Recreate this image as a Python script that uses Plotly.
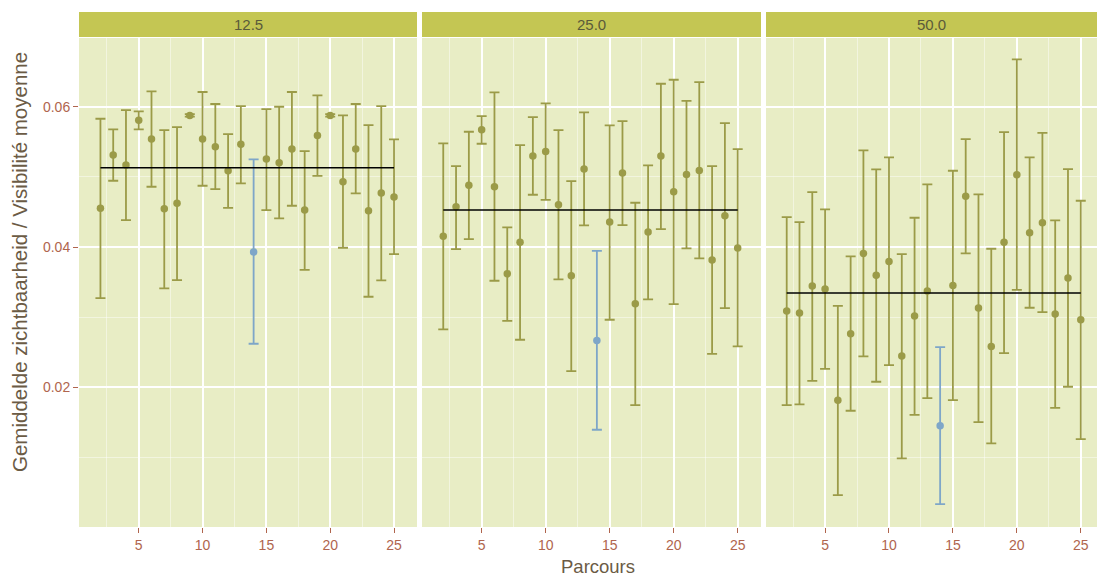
import plotly.graph_objects as go

parcours = list(range(2, 26))
panels = ["12.5", "25.0", "50.0"]
highlight = 14

mean_125 = [0.04552, 0.05311, 0.05169, 0.05806, 0.05540, 0.04546, 0.04623, 0.05877, 0.05540, 0.05430, 0.05088, 0.05464,
            0.03929, 0.05254, 0.05202, 0.05397, 0.04527, 0.05592, 0.05877, 0.04931, 0.05397, 0.04517, 0.04770, 0.04713]
upper_125 = [0.05829, 0.05678, 0.05953, 0.05934, 0.06220, 0.05668, 0.05711, 0.05895, 0.06210, 0.06039, 0.05611, 0.06010,
             0.05250, 0.05967, 0.06000, 0.06210, 0.05368, 0.06163, 0.05895, 0.05877, 0.06039, 0.05739, 0.06010, 0.05535]
lower_125 = [0.03273, 0.04945, 0.04385, 0.05678, 0.04860, 0.03411, 0.03530, 0.05860, 0.04874, 0.04827, 0.04560, 0.04908,
             0.02622, 0.04527, 0.04409, 0.04589, 0.03676, 0.05016, 0.05860, 0.03990, 0.04766, 0.03292, 0.03525, 0.03900]

mean_250 = [0.04153, 0.04575, 0.04880, 0.05672, 0.04860, 0.03619, 0.04067, 0.05297, 0.05364, 0.04603, 0.03591, 0.05112,
            0.02670, 0.04356, 0.05055, 0.03192, 0.04214, 0.05297, 0.04788, 0.05036, 0.05093, 0.03815, 0.04446, 0.03986]
upper_250 = [0.05478, 0.05155, 0.05644, 0.05867, 0.06205, 0.04281, 0.05454, 0.05853, 0.06049, 0.05668, 0.04941, 0.05920,
             0.03947, 0.05735, 0.05796, 0.04632, 0.05165, 0.06328, 0.06385, 0.06084, 0.06352, 0.05155, 0.05768, 0.05397]
lower_250 = [0.02827, 0.03971, 0.04114, 0.05473, 0.03520, 0.02949, 0.02679, 0.04746, 0.04674, 0.03540, 0.02232, 0.04309,
             0.01396, 0.02964, 0.04314, 0.01748, 0.03254, 0.04257, 0.03187, 0.03981, 0.03839, 0.02479, 0.03130, 0.02584]

mean_500 = [0.03088, 0.03059, 0.03444, 0.03401, 0.01815, 0.02764, 0.03910, 0.03597, 0.03796, 0.02446, 0.03016, 0.03373,
            0.01453, 0.03454, 0.04723, 0.03130, 0.02584, 0.04067, 0.05031, 0.04204, 0.04346, 0.03045, 0.03558, 0.02964]
upper_500 = [0.04428, 0.04356, 0.04784, 0.04537, 0.03163, 0.03867, 0.05378, 0.05108, 0.05279, 0.03900, 0.04418, 0.04894,
             0.02574, 0.05088, 0.05540, 0.04751, 0.03976, 0.05639, 0.06676, 0.05279, 0.05629, 0.04381, 0.05112, 0.04660]
lower_500 = [0.01748, 0.01758, 0.02094, 0.02265, 0.00465, 0.01667, 0.02442, 0.02080, 0.02318, 0.00988, 0.01609, 0.01847,
             0.00336, 0.01819, 0.03910, 0.01505, 0.01202, 0.02489, 0.03391, 0.03135, 0.03073, 0.01709, 0.02009, 0.01263]

overall_mean = [0.05131, 0.04527, 0.03344]

y_ticks = [0.02, 0.04, 0.06]
x_ticks = [5, 10, 15, 20, 25]

OLIVE = "#9b9b48"
BLUE = "#7ea6c8"
BG = "#e8edc5"
STRIP = "#c4c653"
TICKCOL = "#b0654e"
TITLECOL = "#6b5b45"
FONT = "Liberation Sans, Arial, sans-serif"

data = [(mean_125, upper_125, lower_125), (mean_250, upper_250, lower_250), (mean_500, upper_500, lower_500)]

W, H = 1097, 577
ML, MR, MT, MB = 79, 0, 12, 50
PW = W - ML - MR
PH = H - MT - MB

def fx(px):
    return (px - ML) / PW

def fy(py):
    return (H - MB - py) / PH

panel_px = [(79, 417), (422, 761), (766, 1097)]
x_ranges = [[0.32, 26.80], [0.34, 26.82], [0.38, 26.27]]
y_range = [0.0001, 0.0698]

fig = go.Figure()

for i, (m, up, lo) in enumerate(data):
    xa = "x" if i == 0 else f"x{i+1}"
    xs_n, ys_n, ep_n, em_n = [], [], [], []
    xs_h, ys_h, ep_h, em_h = [], [], [], []
    for p, v, u, l in zip(parcours, m, up, lo):
        if p == highlight:
            xs_h.append(p); ys_h.append(v); ep_h.append(u - v); em_h.append(v - l)
        else:
            xs_n.append(p); ys_n.append(v); ep_n.append(u - v); em_n.append(v - l)
    fig.add_trace(go.Scatter(
        x=xs_n, y=ys_n, mode="markers", xaxis=xa, yaxis="y",
        marker=dict(color=OLIVE, size=7.5),
        error_y=dict(type="data", symmetric=False, array=ep_n, arrayminus=em_n,
                     color=OLIVE, thickness=1.8, width=5),
        showlegend=False, hoverinfo="x+y"))
    fig.add_trace(go.Scatter(
        x=xs_h, y=ys_h, mode="markers", xaxis=xa, yaxis="y",
        marker=dict(color=BLUE, size=7.5),
        error_y=dict(type="data", symmetric=False, array=ep_h, arrayminus=em_h,
                     color=BLUE, thickness=1.8, width=5),
        showlegend=False, hoverinfo="x+y"))
    fig.add_trace(go.Scatter(
        x=[parcours[0], parcours[-1]], y=[overall_mean[i], overall_mean[i]],
        mode="lines", xaxis=xa, yaxis="y",
        line=dict(color="black", width=1.5), showlegend=False, hoverinfo="skip"))

layout = dict(
    width=W, height=H,
    margin=dict(l=ML, r=MR, t=MT, b=MB),
    paper_bgcolor="white", plot_bgcolor=BG,
    font=dict(family=FONT, color=TICKCOL),
    showlegend=False,
)

for i, (p0, p1) in enumerate(panel_px):
    key = "xaxis" if i == 0 else f"xaxis{i+1}"
    layout[key] = dict(
        domain=[fx(p0), min(fx(p1), 1.0)], range=x_ranges[i], anchor="y",
        tickvals=x_ticks, ticktext=[str(t) for t in x_ticks],
        ticks="outside", ticklen=5, tickwidth=1, tickcolor=TICKCOL,
        tickfont=dict(size=14, color=TICKCOL, family=FONT),
        showgrid=True, gridcolor="white", gridwidth=1.5,
        minor=dict(tickvals=[2.5, 7.5, 12.5, 17.5, 22.5], showgrid=True,
                   gridcolor="rgba(255,255,255,0.45)", gridwidth=1, ticks=""),
        zeroline=False, showline=False, fixedrange=True,
    )

layout["yaxis"] = dict(
    domain=[0, fy(38)], range=y_range,
    tickvals=y_ticks, ticktext=["0.02", "0.04", "0.06"],
    ticks="outside", ticklen=5, tickwidth=1, tickcolor=TICKCOL,
    tickfont=dict(size=14, color=TICKCOL, family=FONT),
    showgrid=True, gridcolor="white", gridwidth=1.5,
    minor=dict(tickvals=[0.01, 0.03, 0.05], showgrid=True,
               gridcolor="rgba(255,255,255,0.45)", gridwidth=1, ticks=""),
    zeroline=False, showline=False, fixedrange=True,
)

fig.update_layout(**layout)

shapes = []
annotations = []
for i, (p0, p1) in enumerate(panel_px):
    shapes.append(dict(type="rect", xref="paper", yref="paper",
                       x0=fx(p0), x1=min(fx(p1), 1.0), y0=fy(37), y1=fy(12),
                       fillcolor=STRIP, line=dict(width=0), layer="above"))
    annotations.append(dict(text=panels[i], xref="paper", yref="paper",
                            x=(fx(p0) + min(fx(p1), 1.0)) / 2, y=(fy(37) + fy(12)) / 2,
                            showarrow=False, font=dict(size=15, color="#5a5a3a", family=FONT),
                            xanchor="center", yanchor="middle"))

annotations.append(dict(text="Parcours", xref="paper", yref="paper",
                        x=fx(598), y=fy(566), showarrow=False,
                        font=dict(size=18.5, color=TITLECOL, family=FONT),
                        xanchor="center", yanchor="middle"))
annotations.append(dict(text="Gemiddelde zichtbaarheid / Visibilité moyenne", xref="paper", yref="paper",
                        x=fx(19), y=fy(262), showarrow=False, textangle=-90,
                        font=dict(size=20.5, color=TITLECOL, family=FONT),
                        xanchor="center", yanchor="middle"))

fig.update_layout(shapes=shapes, annotations=annotations)
fig.write_html("out.html",
               config={"displayModeBar": False},
               post_script="document.body.style.margin='0';document.body.style.overflow='hidden';")
